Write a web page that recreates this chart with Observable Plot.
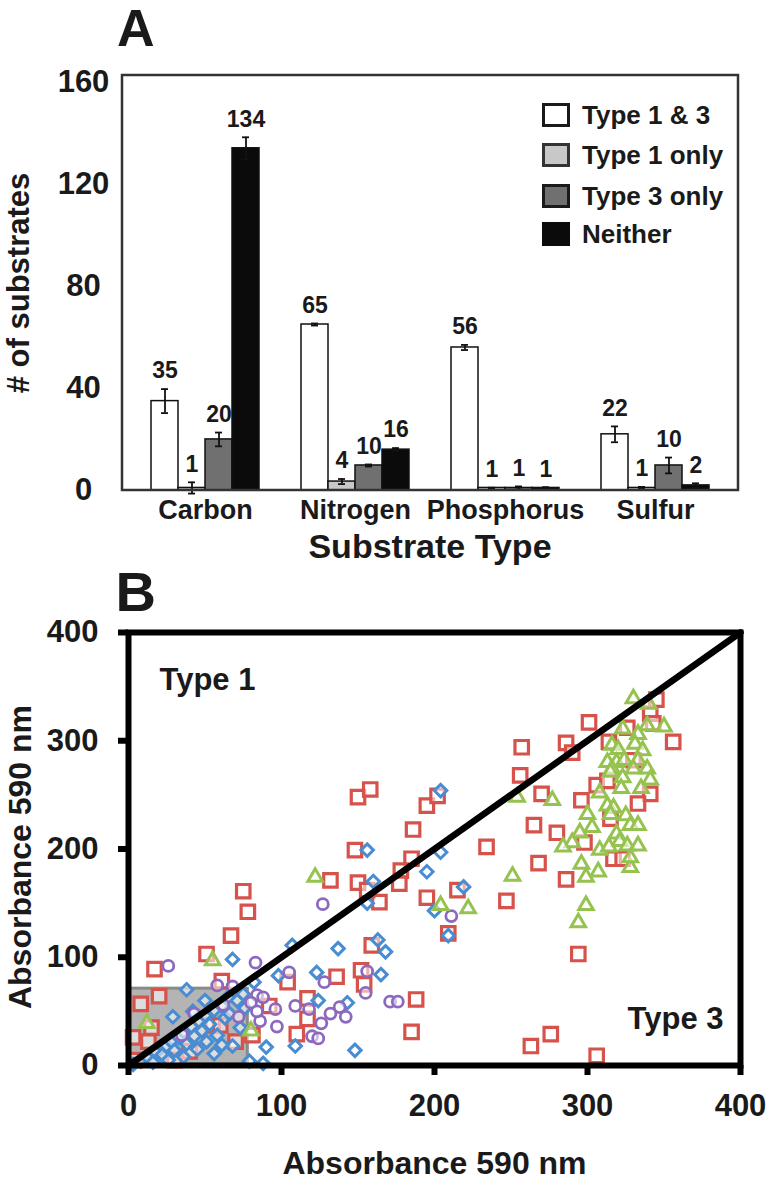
<!DOCTYPE html>
<html>
<head>
<meta charset="utf-8">
<script src="https://cdn.jsdelivr.net/npm/d3@7"></script>
<script src="https://cdn.jsdelivr.net/npm/@observablehq/plot@0.6"></script>
<style>
  body { margin: 0; background: #fff; }
  #root { position: relative; width: 778px; height: 1193px; overflow: hidden;
          font-family: "Liberation Sans", Arial, Helvetica, sans-serif; font-weight: bold; color: #1a1a1a; }
  .t { position: absolute; white-space: nowrap; line-height: 1.15; }
  .panel { position: absolute; left: 0; }
  .sw { position: absolute; box-sizing: border-box; width: 28px; height: 24px; border: 3px solid #222; }
</style>
</head>
<body>
<div id="root"></div>
<script>
// ---------- Panel A data ----------
const groups = ["Carbon", "Nitrogen", "Phosphorus", "Sulfur"];
const types = ["Type 1 & 3", "Type 1 only", "Type 3 only", "Neither"];
const typeColors = ["#ffffff", "#c8c8c8", "#707070", "#0b0b0b"];
const carbonValues = [35, 1, 20, 134];
const carbonErrors = [4.7, 2.2, 2.7, 4.3];
const carbonLabels = ["35", "1", "20", "134"];
const nitrogenValues = [65, 3.5, 9.8, 16];
const nitrogenErrors = [0.4, 1.0, 0.4, 0.6];
const nitrogenLabels = ["65", "4", "10", "16"];
const phosphorusValues = [56, 1, 1, 1];
const phosphorusErrors = [1.0, 0.1, 0.6, 0.3];
const phosphorusLabels = ["56", "1", "1", "1"];
const sulfurValues = [22, 1, 9.8, 2];
const sulfurErrors = [3.1, 0.4, 3.1, 0.8];
const sulfurLabels = ["22", "1", "10", "2"];
const yTicksA = [0, 40, 80, 120, 160];

// ---------- Panel B data (Absorbance 590 nm, x vs y) ----------
const squarePts = [
  [345,338],[341,325],[343,316],[356,299],[301,317],[326,312],[286,298],[290,289],[257,294],[256,268],
  [314,299],[306,259],[270,251],[296,245],[341,251],[333,242],[315,228],[265,222],[280,215],[298,206],
  [234,202],[268,187],[286,172],[317,191],[323,191],[247,152],[215,162],[195,155],[209,122],[294,103],
  [330,282],[313,263],
  [150,248],[158,255],[195,240],[202,249],[186,218],[148,199],[185,191],[178,180],[177,168],[150,169],
  [164,151],[156,162],[132,171],[159,111],[136,82],[152,88],[154,75],[188,61],[185,31],[263,18],[276,29],[306,9],
  [78,142],[75,161],[67,120],[51,103],[17,89],[104,77],[61,78],[117,62],[117,43],[110,29],[92,55],[81,28],
  [8,57],[20,64],[3,26],[13,22],[4,5],[30,5],[40,13],[55,37],[60,37],[70,22],[15,35]
];
const diamondPts = [
  [204,254],[156,199],[204,197],[195,179],[160,170],[219,165],[156,150],[200,143],[209,120],[68,98],
  [107,111],[137,108],[163,116],[168,105],[165,84],[123,86],[98,83],[143,58],[124,60],[109,18],
  [90,17],[88,2],[148,14],[38,70],[79,4],[82,77],
  [3,1],[8,4],[12,8],[16,3],[18,12],[22,10],[25,18],[28,22],[30,14],[33,26],[36,31],[38,20],[41,36],
  [43,27],[46,41],[48,32],[50,46],[53,38],[56,51],[58,28],[61,55],[63,44],[66,48],[68,18],[71,60],
  [73,35],[76,53],[45,15],[51,22],[56,11],[61,19],[26,5],[36,8],[65,63],[75,66],[42,50],[50,60],[29,45]
];
const circlePts = [
  [26,92],[83,95],[127,149],[105,86],[128,77],[156,87],[155,67],[171,59],[176,59],[109,55],[118,52],
  [96,52],[97,36],[86,41],[84,65],[88,63],[138,54],[142,45],[132,48],[126,39],[120,27],[124,25],
  [58,74],[68,73],[35,28],[72,45],[211,138],[80,58],[84,50],[43,48],[62,56]
];
const trianglePts = [
  [122,174],[55,97],[12,39],[80,32],[254,248],[251,175],[204,148],[222,145],[294,132],[299,148],
  [330,339],[340,334],[323,311],[339,314],[350,313],[333,306],[316,296],[320,292],[331,297],[336,291],
  [313,280],[319,280],[324,282],[333,282],[316,274],[330,274],[339,274],[315,271],[323,266],[341,264],
  [308,252],[322,256],[335,256],[277,245],[313,240],[317,238],[300,232],[315,232],[325,231],[328,222],
  [333,222],[303,220],[295,215],[319,214],[321,207],[290,206],[284,202],[308,199],[314,202],[326,203],
  [333,203],[296,186],[307,179],[299,174],[328,183],[328,192]
];
const zoomBox = [{x1: 0, x2: 78, y1: 1, y2: 71}];
const diagonal = [0, 400];
const axisTicksB = [0, 100, 200, 300, 400];

// ---------- build ----------
const FONT = '"Liberation Sans", Arial, Helvetica, sans-serif';
const INK = "#1a1a1a";
const root = document.getElementById("root");

const valueSets = [carbonValues, nitrogenValues, phosphorusValues, sulfurValues];
const errorSets = [carbonErrors, nitrogenErrors, phosphorusErrors, sulfurErrors];
const labelSets = [carbonLabels, nitrogenLabels, phosphorusLabels, sulfurLabels];
const barRows = groups.flatMap((g, gi) => types.map((t, ti) => ({
  group: g, type: t, value: valueSets[gi][ti], err: errorSets[gi][ti], label: labelSets[gi][ti]
})));

const plotA = Plot.plot({
  width: 778, height: 560,
  marginLeft: 122, marginRight: 40, marginTop: 75, marginBottom: 70,
  style: {fontFamily: FONT, fontWeight: "bold", color: INK, background: "transparent", overflow: "visible"},
  fx: {domain: groups, paddingInner: 0.27, paddingOuter: 0.18},
  x: {domain: types, padding: 0, axis: null},
  y: {domain: [0, 162.5]},
  color: {domain: types, range: typeColors},
  marks: [
    Plot.barY(barRows, {fx: "group", x: "type", y: "value", fill: "type", stroke: "#111", strokeWidth: 1.5}),
    Plot.ruleX(barRows, {fx: "group", x: "type", y1: d => d.value - d.err, y2: d => d.value + d.err, stroke: "#111", strokeWidth: 1.8}),
    Plot.tickY(barRows, {fx: "group", x: "type", y: d => d.value + d.err, insetLeft: 10, insetRight: 10, stroke: "#111", strokeWidth: 1.8}),
    Plot.tickY(barRows, {fx: "group", x: "type", y: d => d.value - d.err, insetLeft: 10, insetRight: 10, stroke: "#111", strokeWidth: 1.8}),
    Plot.text(barRows, {fx: "group", x: "type", y: d => d.value + d.err, text: "label", dy: -18, fontSize: 23, fill: INK}),
    Plot.axisY({ticks: yTicksA, tickSize: 0, tickPadding: 67, textAnchor: "middle", fontSize: 31, label: null, fill: INK}),
    Plot.axisFx({anchor: "bottom", tickSize: 0, tickPadding: 9, fontSize: 27, label: null, fill: INK})
  ]
});
{
  const [fx0, fx1] = plotA.scale("fx").range;
  const [yb, yt] = plotA.scale("y").range;
  d3.select(plotA).append("rect")
    .attr("x", fx0).attr("y", yt).attr("width", fx1 - fx0).attr("height", yb - yt)
    .attr("fill", "none").attr("stroke", "#333").attr("stroke-width", 2.5);
}
plotA.classList.add("panel");
plotA.style.top = "0px";
root.appendChild(plotA);

const RED = "#d6524b", BLUE = "#488cd2", PURPLE = "#8c69be", GREEN = "#96c350";
const plotB = Plot.plot({
  width: 778, height: 633,
  marginLeft: 128, marginRight: 38, marginTop: 72, marginBottom: 128,
  style: {fontFamily: FONT, fontWeight: "bold", color: INK, background: "transparent", overflow: "visible"},
  x: {domain: [0, 400]},
  y: {domain: [0, 400]},
  marks: [
    Plot.rect(zoomBox, {x1: "x1", x2: "x2", y1: "y1", y2: "y2", fill: "#b4b4b4", stroke: "#8a8a8a", strokeWidth: 3}),
    Plot.dot(squarePts, {x: d => d[0], y: d => d[1], symbol: "square", r: 7.6, stroke: RED, strokeWidth: 3.2, fill: "white", fillOpacity: 0.55}),
    Plot.dot(diamondPts, {x: d => d[0], y: d => d[1], symbol: "diamond2", r: 5.6, stroke: BLUE, strokeWidth: 3, fill: "white", fillOpacity: 0.55}),
    Plot.dot(circlePts, {x: d => d[0], y: d => d[1], symbol: "circle", r: 5.5, stroke: PURPLE, strokeWidth: 2.8, fill: "white", fillOpacity: 0.55}),
    Plot.dot(trianglePts, {x: d => d[0], y: d => d[1], symbol: "triangle", r: 5.4, stroke: GREEN, strokeWidth: 3, fill: "white", fillOpacity: 0.55}),
    Plot.line(diagonal, {x: d => d, y: d => d, stroke: "#000", strokeWidth: 6.5}),
    Plot.frame({stroke: "#000", strokeWidth: 6}),
    Plot.axisX({ticks: axisTicksB, tickSize: 10, tickPadding: 18, strokeWidth: 6, stroke: "#000", fontSize: 31, label: null, fill: INK}),
    Plot.axisY({ticks: axisTicksB, tickSize: 10, tickPadding: 20, strokeWidth: 6, stroke: "#000", fontSize: 31, label: null, fill: INK}),
    Plot.text(["Type 1"], {frameAnchor: "top-left", textAnchor: "start", lineAnchor: "middle", dx: 31, dy: 48, fontSize: 31, fill: INK}),
    Plot.text(["Type 3"], {frameAnchor: "bottom-right", textAnchor: "end", lineAnchor: "middle", dx: -17, dy: -46, fontSize: 31, fill: INK}),
    Plot.text(["Absorbance 590 nm"], {frameAnchor: "bottom", lineAnchor: "middle", textAnchor: "middle", dy: 98, fontSize: 32, fill: INK}),
    Plot.text(["Absorbance 590 nm"], {frameAnchor: "left", rotate: -90, textAnchor: "middle", lineAnchor: "middle", dx: -108, dy: 8, fontSize: 32, fill: INK}),
    Plot.text(["B"], {frameAnchor: "top-left", textAnchor: "start", lineAnchor: "middle", dx: -13, dy: -39, fontSize: 56, fill: INK})
  ]
});
plotB.classList.add("panel");
plotB.style.top = "560px";
root.appendChild(plotB);

// ---------- Panel A HTML text: letter, axis title, legend ----------
function addText(txt, left, top, size, extra) {
  const d = document.createElement("div");
  d.className = "t";
  d.textContent = txt;
  d.style.left = left + "px";
  d.style.top = top + "px";
  d.style.fontSize = size + "px";
  if (extra) Object.assign(d.style, extra);
  root.appendChild(d);
  return d;
}
addText("A", 117, 2, 52, {lineHeight: "1"});
addText("Substrate Type", 430, 527, 34, {transform: "translateX(-50%)"});
addText("# of substrates", 19, 283, 31, {transform: "translate(-50%,-50%) rotate(-90deg)"});

const legendRows = [115, 155, 196, 234];
const swatchBorders = ["#1a1a1a", "#333", "#1a1a1a", "#0b0b0b"];
types.forEach((t, i) => {
  const sw = document.createElement("div");
  sw.className = "sw";
  sw.style.left = "542px";
  sw.style.top = (legendRows[i] - 12) + "px";
  sw.style.background = typeColors[i];
  sw.style.borderColor = swatchBorders[i];
  root.appendChild(sw);
  addText(t, 582, legendRows[i] - 14.5, 26);
});
</script>
</body>
</html>
